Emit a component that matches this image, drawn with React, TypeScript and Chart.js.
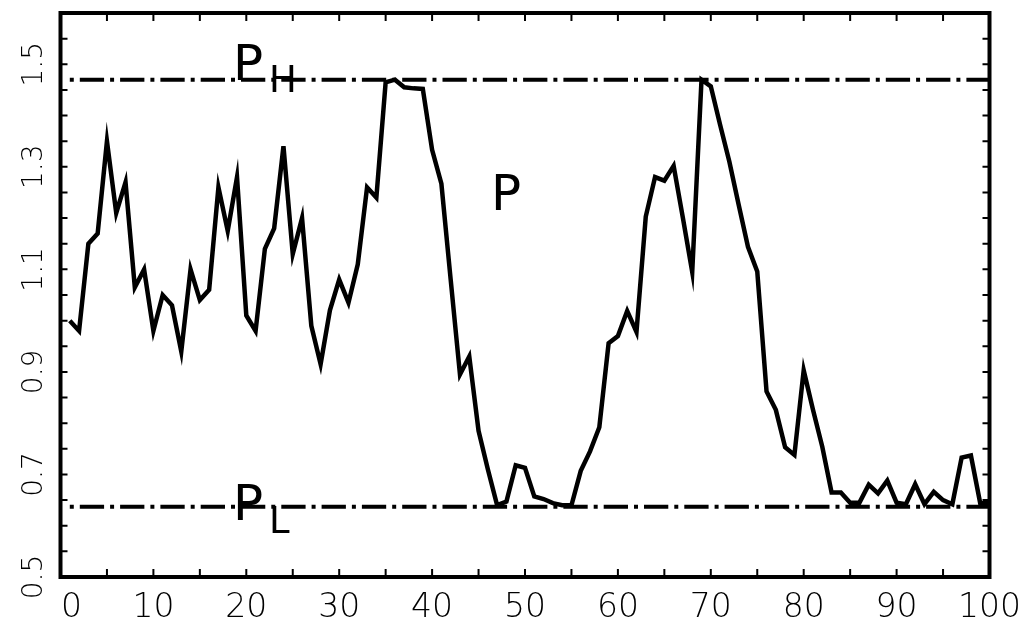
import React, { useEffect, useRef } from "react";
import { Chart, registerables } from "chart.js";

Chart.register(...registerables);

// Step numbers (x) and P values (y)
const steps = [
  1, 2, 3, 4, 5, 6, 7, 8, 9, 10,
  11, 12, 13, 14, 15, 16, 17, 18, 19, 20,
  21, 22, 23, 24, 25, 26, 27, 28, 29, 30,
  31, 32, 33, 34, 35, 36, 37, 38, 39, 40,
  41, 42, 43, 44, 45, 46, 47, 48, 49, 50,
  51, 52, 53, 54, 55, 56, 57, 58, 59, 60,
  61, 62, 63, 64, 65, 66, 67, 68, 69, 70,
  71, 72, 73, 74, 75, 76, 77, 78, 79, 80,
  81, 82, 83, 84, 85, 86, 87, 88, 89, 90,
  91, 92, 93, 94, 95, 96, 97, 98, 99, 100,
];

const pValues = [
  1.0, 0.98, 1.15, 1.17, 1.35, 1.21, 1.27, 1.065, 1.1, 0.98,
  1.05, 1.03, 0.94, 1.1, 1.04, 1.06, 1.26, 1.175, 1.28, 1.01,
  0.98, 1.14, 1.18, 1.34, 1.13, 1.2, 0.99, 0.915, 1.02, 1.08,
  1.035, 1.11, 1.26, 1.24, 1.465, 1.47, 1.455, 1.453, 1.452, 1.333,
  1.267, 1.08, 0.895, 0.93, 0.785, 0.71, 0.64, 0.647, 0.718, 0.713,
  0.657, 0.652, 0.644, 0.64, 0.64, 0.707, 0.745, 0.792, 0.956, 0.97,
  1.019, 0.978, 1.203, 1.28, 1.273, 1.302, 1.2, 1.095, 1.47, 1.457,
  1.382, 1.31, 1.226, 1.144, 1.096, 0.862, 0.826, 0.753, 0.738, 0.903,
  0.826, 0.754, 0.665, 0.665, 0.645, 0.645, 0.68, 0.663, 0.688, 0.645,
  0.642, 0.681, 0.642, 0.666, 0.65, 0.642, 0.733, 0.737, 0.644, 0.644,
];

const pHigh = 1.47;
const pLow = 0.637;
const limitRange = [1, 100];

const xTickLabels = [0, 10, 20, 30, 40, 50, 60, 70, 80, 90, 100];
const yTickLabels = [0.5, 0.7, 0.9, 1.1, 1.3, 1.5];

const textMarks = [
  { text: "P", x: 19.0, y: 1.469, size: 50 },
  { text: "H", x: 22.77, y: 1.446, size: 37 },
  { text: "P", x: 19.0, y: 0.611, size: 50 },
  { text: "L", x: 22.77, y: 0.586, size: 37 },
  { text: "P", x: 46.77, y: 1.216, size: 50 },
];

const FONT = '"DejaVu Sans", "Liberation Sans", sans-serif';

const framePlugin = {
  id: "frameTicks",
  afterDraw(chart: any) {
    const { ctx, chartArea } = chart;
    const { left, right, top, bottom } = chartArea;
    const xs = chart.scales.x;
    const ys = chart.scales.y;
    ctx.save();
    ctx.strokeStyle = "#000";
    ctx.fillStyle = "#000";
    ctx.lineCap = "butt";
    ctx.lineWidth = 2;
    ctx.beginPath();
    for (const t of xs.ticks) {
      const px = xs.getPixelForValue(t.value);
      ctx.moveTo(px, bottom);
      ctx.lineTo(px, bottom - 8);
      ctx.moveTo(px, top);
      ctx.lineTo(px, top + 8);
    }
    for (const t of ys.ticks) {
      const py = ys.getPixelForValue(t.value);
      ctx.moveTo(left, py);
      ctx.lineTo(left + 7, py);
      ctx.moveTo(right, py);
      ctx.lineTo(right - 7, py);
    }
    ctx.stroke();

    ctx.lineWidth = 4;
    ctx.lineJoin = "miter";
    ctx.strokeRect(left, top, right - left, bottom - top);

    // x tick labels
    ctx.font = `200 33px ${FONT}`;
    ctx.textBaseline = "alphabetic";
    ctx.textAlign = "left";
    for (const v of xTickLabels) {
      const s = String(v);
      const px = xs.getPixelForValue(v);
      const m = ctx.measureText(s);
      let x0 = px - m.width / 2;
      const inkLeft = x0 - m.actualBoundingBoxLeft;
      if (inkLeft < left + 2.5) x0 += left + 2.5 - inkLeft;
      ctx.fillText(s, x0, bottom + 40);
    }

    // y tick labels (rotated)
    ctx.font = `200 28px ${FONT}`;
    ctx.textAlign = "center";
    ctx.textBaseline = "alphabetic";
    for (const v of yTickLabels) {
      const py = ys.getPixelForValue(v);
      ctx.save();
      ctx.translate(42, py);
      ctx.rotate(-Math.PI / 2);
      ctx.fillText(v.toFixed(1), 0, 0);
      ctx.restore();
    }

    // P labels
    ctx.textAlign = "left";
    ctx.textBaseline = "alphabetic";
    for (const t of textMarks) {
      ctx.font = `${t.size}px ${FONT}`;
      const m = ctx.measureText(t.text);
      const px = xs.getPixelForValue(t.x);
      const py = ys.getPixelForValue(t.y);
      ctx.fillText(t.text, px + m.actualBoundingBoxLeft, py);
    }
    ctx.restore();
  },
};

export default function App() {
  const ref = useRef<HTMLCanvasElement | null>(null);
  useEffect(() => {
    if (!ref.current) return;
    const dash = [4, 6, 24.3, 6];
    const chart = new Chart(ref.current, {
      type: "line",
      data: {
        datasets: [
          {
            data: limitRange.map((x) => ({ x, y: pHigh })),
            borderColor: "#000",
            borderWidth: 4,
            borderDash: dash,
            borderCapStyle: "butt",
            pointRadius: 0,
            fill: false,
          },
          {
            data: limitRange.map((x) => ({ x, y: pLow })),
            borderColor: "#000",
            borderWidth: 4,
            borderDash: dash,
            borderCapStyle: "butt",
            pointRadius: 0,
            fill: false,
          },
          {
            data: steps.map((x, i) => ({ x, y: pValues[i] })),
            borderColor: "#000",
            borderWidth: 4.5,
            borderJoinStyle: "miter",
            pointRadius: 0,
            tension: 0,
            fill: false,
          },
        ],
      },
      options: {
        responsive: false,
        animation: false,
        devicePixelRatio: 1,
        layout: { padding: { top: 13, right: 36.5, left: 0, bottom: 0 } },
        plugins: { legend: { display: false }, tooltip: { enabled: false } },
        scales: {
          x: {
            type: "linear",
            min: 0,
            max: 100,
            ticks: { display: false, stepSize: 5 },
            grid: { display: false },
            border: { display: false },
            afterFit: (s: any) => {
              s.height = 47;
            },
          },
          y: {
            type: "linear",
            min: 0.5,
            max: 1.6,
            ticks: { display: false, stepSize: 0.05 },
            grid: { display: false },
            border: { display: false },
            afterFit: (s: any) => {
              s.width = 60.5;
            },
          },
        },
      },
      plugins: [framePlugin],
    } as any);
    return () => chart.destroy();
  }, []);
  return (
    <div style={{ position: "absolute", left: 0, top: 0, width: 1026, height: 624, background: "#fff" }}>
      <canvas ref={ref} width={1026} height={624} style={{ display: "block" }} />
    </div>
  );
}
